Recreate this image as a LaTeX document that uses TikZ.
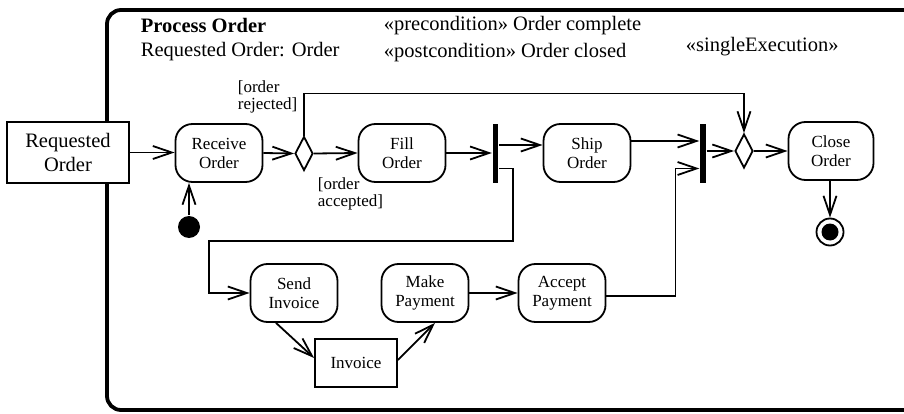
\documentclass[tikz,border=0pt]{standalone}
\usepackage{fontspec}
\setmainfont{Liberation Serif}
\usetikzlibrary{arrows.meta,shapes.geometric,calc}
\begin{document}
\begin{tikzpicture}[x=1pt,y=-1pt,
  line width=1.8pt,
  arr/.style={-{Straight Barb[length=19pt,width=13pt]}},
  action/.style={draw, line width=1.8pt, rounded corners=17pt, minimum width=87pt, minimum height=58pt, inner sep=1pt, align=center, font=\fontsize{17}{19}\selectfont},
  objbox/.style={draw, line width=1.8pt, fill=white, align=center, inner sep=0pt},
  decision/.style={draw, diamond, line width=1.8pt, minimum width=18pt, minimum height=34pt, inner sep=0pt},
  bar/.style={fill=black, draw=none, minimum width=5.5pt, minimum height=59pt, inner sep=0pt},
  guard/.style={align=left, inner sep=0pt, font=\fontsize{17}{17}\selectfont},
  hdr/.style={anchor=base west, inner sep=0pt, font=\fontsize{20.5}{24}\selectfont}
]
\clip (0,0) rectangle (904,414);
\fill[white] (0,0) rectangle (904,414);
% frame
\draw[line width=3.8pt, rounded corners=14pt] (960,410) -- (107,410) -- (107,10) -- (960,10);
% header texts
\node[hdr, font=\bfseries\fontsize{20.5}{24}\selectfont] (title) at (140,33) {Process Order};
\node[hdr] (param) at (140,57) {Requested Order: Order};
\node[hdr] (pre) at (383,31) {«precondition» Order complete};
\node[hdr] (post) at (383,58) {«postcondition» Order closed};
\node[hdr] (single) at (685,52) {«singleExecution»};
% nodes
\node[objbox, minimum width=122pt, minimum height=61pt, font=\fontsize{20.5}{24}\selectfont] (req) at (68,152.5) {Requested\\Order};
\node[action] (recv) at (219,153) {Receive\\Order};
\node[decision] (d1) at (304,153.5) {};
\node[action] (fill) at (402,153) {Fill\\Order};
\node[bar] (fork) at (495.5,153.5) {};
\node[action] (ship) at (587,153) {Ship\\Order};
\node[bar] (join) at (703,153.5) {};
\node[decision] (d2) at (744,151) {};
\node[action, minimum width=85pt] (close) at (831,151) {Close\\Order};
\node[circle, fill=black, minimum size=22pt, inner sep=0pt] (init) at (189,227) {};
\node[circle, draw, line width=1.8pt, minimum size=27pt, inner sep=0pt] (final) at (830,232) {};
\fill (final.center) circle (8.5pt);
\node[action] (send) at (294,293) {Send\\Invoice};
\node[action] (make) at (425,293) {Make\\Payment};
\node[action] (acc) at (562,293) {Accept\\Payment};
\node[objbox, minimum width=82pt, minimum height=48pt, font=\fontsize{17}{19}\selectfont] (inv) at (356,363) {Invoice};
% guards
\node[guard, anchor=north west] (gr) at (237,80) {[order\\rejected]};
\node[guard, anchor=north west] (ga) at (317,177) {[order\\accepted]};
% helper coordinates
\path (ship.west) ++(0,-8) coordinate (shipin);
\path (ship.east) ++(0,-12) coordinate (shipout);
\path (fork.east) ++(0,15) coordinate (forkout);
\path (join.west) ++(0,15) coordinate (joinin);
\path (acc.east) ++(0,3) coordinate (accout);
\path (send.south) ++(-18,0) coordinate (sendout);
\path (inv.west) ++(0,-5) coordinate (invin);
\path (inv.east) ++(0,-3) coordinate (invout);
\path (make.south) ++(10,0) coordinate (makein);
% connectors
\draw[arr] (req.east) -- (req.east -| recv.west);
\draw[arr] (recv.east) -- (d1.west);
\draw[arr] (d1.east) -- (fill.west);
\draw[arr] (fill.east) -- (fill.east -| fork.west);
\draw[arr] (fork.east |- shipin) -- (shipin);
\draw[arr] (shipout) -- (shipout -| join.west);
\draw[arr] (join.east |- d2.west) -- (d2.west);
\draw[arr] (d2.east) -- (d2.east -| close.west);
\draw[arr] (d1.north) -- ++(0,-42) -| (d2.north);
\draw[arr] (forkout) -- ++(14,0) |- (209,241) |- (send.west);
\draw[arr] (accout) -- ++(69,0) |- (joinin);
\draw[arr] (make.east) -- (acc.west);
\draw[arr] (init) -- (init |- recv.south);
\draw[arr] (final |- close.south) -- (final.north);
\draw[arr] (sendout) -- (invin);
\draw[arr] (invout) -- (makein);
\end{tikzpicture}
\end{document}
